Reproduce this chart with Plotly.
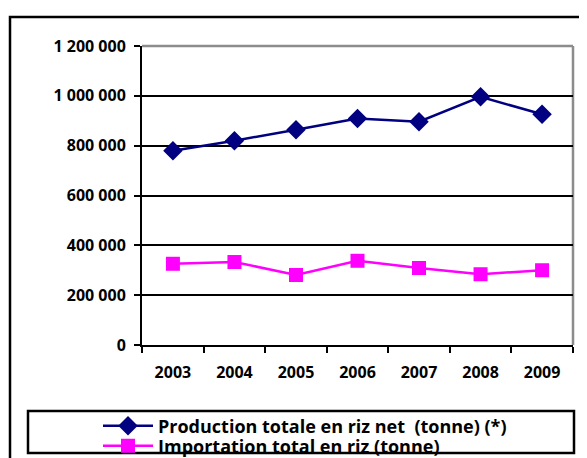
import plotly.graph_objects as go

years = ["2003", "2004", "2005", "2006", "2007", "2008", "2009"]
production = [780000, 820000, 864000, 909000, 896000, 996000, 926000]
importation = [326000, 333000, 281000, 338000, 309000, 284000, 300000]
name_prod = "Production totale en riz net  (tonne) (*)"
name_imp = "Importation total en riz (tonne)"

# page body has an 8px margin: work in reference pixels, shift by OFF
OFF = 8
W, H = 587 - OFF, 458 - OFF
# plot area in reference pixels
PX0, PX1, PY0, PY1 = 142, 573, 46, 345
L, T = PX0 - OFF, PY0 - OFF
R, B = W - (PX1 - OFF), H - (PY1 - OFF)
pw, ph = PX1 - PX0, PY1 - PY0

def px2x(px):
    return (px - PX0) / pw

def py2y(py):
    return (PY1 - py) / ph

FONT = "Open Sans"
TICK = dict(family=FONT, size=16, color="black", weight="bold")
LEG = dict(family=FONT, size=18, color="black", weight="bold")

fig = go.Figure()
fig.add_trace(go.Scatter(x=years, y=production, name=name_prod, mode="lines+markers",
                         line=dict(color="#000080", width=2.5),
                         marker=dict(symbol="diamond", size=15, color="#000080"),
                         legend="legend"))
fig.add_trace(go.Scatter(x=years, y=importation, name=name_imp, mode="lines+markers",
                         line=dict(color="#FF00FF", width=2.5),
                         marker=dict(symbol="square", size=14, color="#FF00FF"),
                         legend="legend2"))

legcommon = dict(xanchor="left", yanchor="middle", bgcolor="rgba(0,0,0,0)", borderwidth=0,
                 font=LEG, itemwidth=50)

fig.update_layout(
    width=W, height=H,
    margin=dict(l=L, r=R, t=T, b=B, autoexpand=False),
    paper_bgcolor="white", plot_bgcolor="white",
    separators=", ",
    font=dict(family=FONT, size=16, color="black", weight="bold"),
    showlegend=True,
    legend=dict(x=px2x(98), y=py2y(426), **legcommon),
    legend2=dict(x=px2x(98), y=py2y(446), **legcommon),
    xaxis=dict(type="category", showgrid=False, showline=True, linecolor="black", linewidth=2,
               ticks="outside", tickson="boundaries", ticklen=6, tickwidth=2, tickcolor="black",
               ticklabelstandoff=12, tickfont=TICK, fixedrange=True),
    yaxis=dict(range=[0, 1200000], dtick=200000, tickformat=",d", showgrid=True,
               gridcolor="black", gridwidth=2, showline=True, linecolor="black", linewidth=2,
               ticks="outside", ticklen=6, tickwidth=2, tickcolor="black", zeroline=False,
               ticklabelstandoff=5, tickfont=TICK, fixedrange=True),
    shapes=[
        # outer chart border
        dict(type="rect", xref="paper", yref="paper",
             x0=px2x(10), x1=px2x(600), y0=py2y(480), y1=py2y(17),
             line=dict(color="black", width=2.5), layer="above"),
        # legend box
        dict(type="rect", xref="paper", yref="paper",
             x0=px2x(28), x1=px2x(574), y0=py2y(453), y1=py2y(411),
             line=dict(color="black", width=2.5), layer="above"),
        # plot area top/right border (gray)
        dict(type="line", xref="paper", yref="paper", x0=0, x1=1, y0=1, y1=1,
             line=dict(color="#8c8c8c", width=2.5), layer="above"),
        dict(type="line", xref="paper", yref="paper", x0=1, x1=1, y0=0, y1=1,
             line=dict(color="#8c8c8c", width=2.5), layer="below"),
    ],
)

fig.write_html("out.html")
